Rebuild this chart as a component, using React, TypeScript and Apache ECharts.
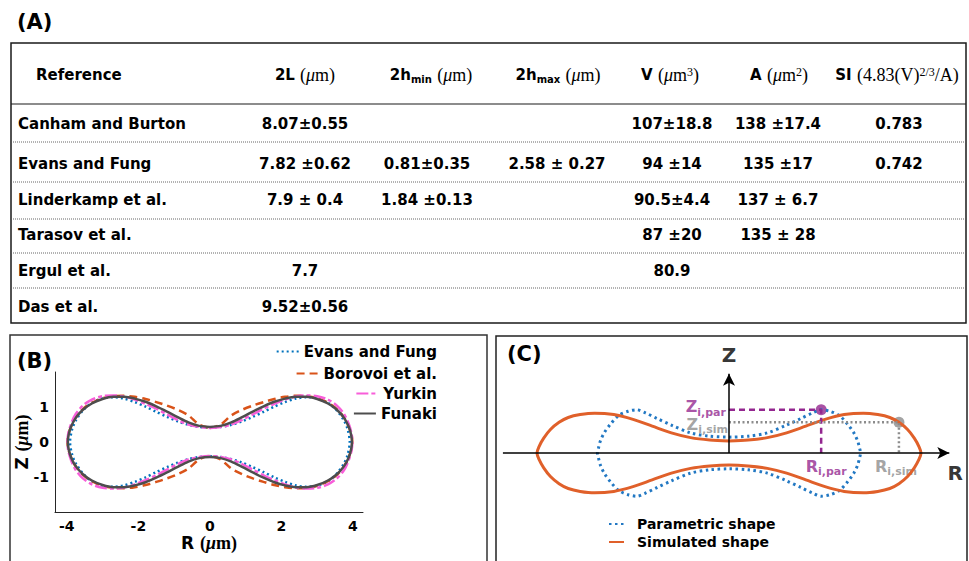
import React, { useEffect, useRef } from "react";
import * as echarts from "echarts";

const SANS = "DejaVu Sans";
const SERIF = "Liberation Serif";

// ---------- (A) literature table ----------
const references = [
  "Canham and Burton",
  "Evans and Fung",
  "Linderkamp et al.",
  "Tarasov et al.",
  "Ergul et al.",
  "Das et al.",
];
const diameterVals = ["8.07±0.55", "7.82 ±0.62", "7.9 ± 0.4", "", "7.7", "9.52±0.56"];
const minThicknessVals = ["", "0.81±0.35", "1.84 ±0.13", "", "", ""];
const maxThicknessVals = ["", "2.58 ± 0.27", "", "", "", ""];
const volumeVals = ["107±18.8", "94 ±14", "90.5±4.4", "87 ±20", "80.9", ""];
const areaVals = ["138 ±17.4", "135 ±17", "137 ± 6.7", "135 ± 28", "", ""];
const sphericityVals = ["0.783", "0.742", "", "", "", ""];
const columnHeaders = [
  "{b|2L} {s|(}{i|μ}{s|m)}",
  "{b|2h}{sub|min} {s|(}{i|μ}{s|m)}",
  "{b|2h}{sub|max} {s|(}{i|μ}{s|m)}",
  "{b|V} {s|(}{i|μ}{s|m}{sup|3}{s|)}",
  "{b|A} {s|(}{i|μ}{s|m}{sup|2}{s|)}",
  "{b|SI} {s|(4.83(V)}{sup|2/3}{s|/A)}",
];

// ---------- (B) cell profiles, one quadrant each: [R, Z] in μm ----------
const evansFung = [
  [0, 0.41], [0.3, 0.43], [0.6, 0.49], [0.9, 0.59], [1.2, 0.72], [1.5, 0.86],
  [1.8, 1.01], [2.1, 1.14], [2.4, 1.24], [2.7, 1.28], [3.0, 1.25], [3.3, 1.12],
  [3.55, 0.9], [3.75, 0.61], [3.85, 0.37], [3.91, 0],
];
const borovoi = [
  [0, 0.4], [0.3, 0.5], [0.6, 0.76], [0.9, 0.92], [1.2, 1.04], [1.5, 1.14],
  [1.8, 1.23], [2.1, 1.29], [2.4, 1.32], [2.7, 1.31], [3.0, 1.25], [3.3, 1.12],
  [3.55, 0.94], [3.75, 0.7], [3.88, 0.44], [3.96, 0.2], [3.98, 0],
];
const yurkin = [
  [0, 0.4], [0.3, 0.43], [0.6, 0.5], [0.9, 0.63], [1.2, 0.79], [1.5, 0.95],
  [1.8, 1.09], [2.1, 1.21], [2.4, 1.3], [2.7, 1.33], [3.0, 1.31], [3.3, 1.21],
  [3.55, 1.04], [3.75, 0.8], [3.88, 0.52], [3.96, 0.24], [3.98, 0],
];
const funaki = [
  [0, 0.43], [0.3, 0.46], [0.6, 0.56], [0.9, 0.71], [1.2, 0.87], [1.5, 1.02],
  [1.8, 1.15], [2.1, 1.24], [2.4, 1.29], [2.7, 1.29], [3.0, 1.23], [3.3, 1.1],
  [3.55, 0.92], [3.75, 0.69], [3.88, 0.44], [3.95, 0.2], [3.97, 0],
];
const rTicks = [-4, -2, 0, 2, 4];
const zTicks = [-1, 0, 1];

// ---------- (C) parametric vs simulated shape ----------
const parametricShape = [
  [0, 0.33], [0.4, 0.35], [0.8, 0.42], [1.2, 0.58], [1.5, 0.72], [1.75, 0.84],
  [1.92, 0.9], [2.1, 0.87], [2.3, 0.78], [2.47, 0.6], [2.6, 0.42], [2.68, 0.25],
  [2.72, 0.1], [2.74, 0],
];
const simulatedShape = [
  [0, 0.25], [0.4, 0.27], [0.8, 0.32], [1.2, 0.42], [1.6, 0.56], [2.0, 0.7],
  [2.4, 0.8], [2.8, 0.83], [3.1, 0.8], [3.35, 0.74], [3.54, 0.64], [3.72, 0.49],
  [3.86, 0.31], [3.96, 0.13], [4.0, 0],
];
const parPoint = [1.92, 0.9];
const simPoint = [3.54, 0.64];
const rAxisEnd = 4.71;
const zAxisEnd = 1.77;

// mirror one quadrant into a closed outline
const outline = (q: number[][]) => {
  const topRight = q.map(([r, z]) => [r, z]);
  const bottomRight = q.slice(0, -1).reverse().map(([r, z]) => [r, -z]);
  const bottomLeft = q.slice(1).map(([r, z]) => [-r, -z]);
  const topLeft = q.slice(0, -1).reverse().map(([r, z]) => [-r, z]);
  return [...topRight, ...bottomRight, ...bottomLeft, ...topLeft];
};

const BLUE_B = "#0072BD";
const ORANGE_B = "#D95319";
const PINK_B = "#F85ED9";
const GRAY_B = "#4D4D4D";
const BLUE_C = "#2278C3";
const ORANGE_C = "#E0602A";
const PURPLE = "#93278F";
const GRAY_C = "#8C8C8C";

const headerRich = {
  b: { fontFamily: SANS, fontWeight: "bold", fontSize: 15, fill: "#000" },
  s: { fontFamily: SERIF, fontSize: 18, fill: "#000" },
  i: { fontFamily: SERIF, fontStyle: "italic", fontSize: 18, fill: "#000" },
  sub: { fontFamily: SANS, fontWeight: "bold", fontSize: 10, fill: "#000", verticalAlign: "bottom" },
  sup: { fontFamily: SERIF, fontSize: 12, fill: "#000", verticalAlign: "top" },
};

function buildTable() {
  const left = 11, right = 966, top = 43, bottom = 323;
  const headerY = 75;
  const headerRule = 104;
  const rowRules = [142, 182, 219, 253, 288];
  const rowYs = [124, 164, 200, 235, 271, 307];
  const headerXs = [305, 431, 558, 670, 779, 897];
  const colXs = [305, 427, 557, 672, 778, 899];
  const cols = [diameterVals, minThicknessVals, maxThicknessVals, volumeVals, areaVals, sphericityVals];
  const txt = { fontFamily: SANS, fontWeight: "bold", fontSize: 15, fill: "#000" };
  const els: any[] = [
    { type: "rect", shape: { x: left, y: top, width: right - left, height: bottom - top }, style: { fill: "none", stroke: "#1a1a1a", lineWidth: 1.5 } },
    { type: "line", shape: { x1: left, y1: headerRule, x2: right, y2: headerRule }, style: { stroke: "#1a1a1a", lineWidth: 1.2 } },
    ...rowRules.map((y) => ({
      type: "line",
      shape: { x1: left, y1: y, x2: right, y2: y },
      style: { stroke: "#555", lineWidth: 0.9, lineDash: [1, 1] },
    })),
    { type: "text", x: 36, y: headerY, style: { ...txt, text: "Reference", align: "left", verticalAlign: "middle" } },
    ...columnHeaders.map((h, i) => ({
      type: "text",
      x: headerXs[i],
      y: headerY,
      style: { ...txt, text: h, rich: headerRich, align: "center", verticalAlign: "middle" },
    })),
    ...references.map((r, i) => ({
      type: "text",
      x: 18,
      y: rowYs[i],
      style: { ...txt, text: r, align: "left", verticalAlign: "middle" },
    })),
  ];
  cols.forEach((col, c) => {
    col.forEach((v, r) => {
      if (!v) return;
      els.push({ type: "text", x: colXs[c], y: rowYs[r], style: { ...txt, text: v, align: "center", verticalAlign: "middle" } });
    });
  });
  return els;
}

const panelLabel = (t: string, x: number, y: number) => ({
  type: "text",
  x,
  y,
  style: { text: t, fontFamily: SANS, fontWeight: "bold", fontSize: 21, fill: "#000", align: "left", verticalAlign: "middle" },
});

const legendText = { fontFamily: SANS, fontWeight: "bold", fontSize: 15, color: "#000" };
const bLegend = (name: string, top: number) => ({
  data: [name],
  right: 532,
  top,
  padding: 0,
  itemWidth: 22,
  itemHeight: 10,
  selectedMode: false,
  itemStyle: { opacity: 0 },
  textStyle: legendText,
});

const unitRich = {
  r: { fontFamily: SANS, fontWeight: "bold", fontSize: 17, color: "#000" },
  s: { fontFamily: SERIF, fontSize: 18, color: "#000" },
  i: { fontFamily: SERIF, fontStyle: "italic", fontSize: 18, color: "#000" },
};

const symLabel = (color: string) => ({
  m: { fontFamily: SANS, fontWeight: "bold", fontSize: 16, color },
  s: { fontFamily: SANS, fontWeight: "bold", fontSize: 11, color, verticalAlign: "bottom", padding: [0, 0, -3, 0] },
});

export default function App() {
  const ref = useRef<HTMLDivElement>(null);
  useEffect(() => {
    if (!ref.current) return;
    const chart = echarts.init(ref.current, undefined, { renderer: "svg" });
    const bAxisLine = { show: true, onZero: false, lineStyle: { color: "#262626", width: 1 } };
    const tickFont = { fontFamily: SANS, fontWeight: "bold", fontSize: 14, color: "#000" };
    chart.setOption({
      animation: false,
      backgroundColor: "#fff",
      grid: [
        { left: 55, top: 372, width: 308, height: 140, outerBoundsMode: "none" },
        { left: 498.6, top: 357, width: 460.8, height: 153.6, outerBoundsMode: "none" },
      ],
      xAxis: [
        {
          gridIndex: 0, type: "value", min: -4.33, max: 4.28,
          axisLine: bAxisLine, axisTick: { show: false }, splitLine: { show: false },
          axisLabel: { ...tickFont, margin: 7, customValues: rTicks },
          name: "{r|R} {s|(}{i|μ}{s|m)}", nameLocation: "middle", nameGap: 22, nameMoveOverlap: false,
          nameTextStyle: { ...tickFont, fontSize: 17, rich: unitRich },
        },
        { gridIndex: 1, type: "value", min: -4.8, max: 4.8, show: false },
      ],
      yAxis: [
        {
          gridIndex: 0, type: "value", min: -2, max: 2,
          axisLine: bAxisLine, axisTick: { show: false }, splitLine: { show: false },
          axisLabel: { ...tickFont, margin: 6, customValues: zTicks },
          name: "{r|Z} {s|(}{i|μ}{s|m)}", nameLocation: "middle", nameRotate: 90, nameGap: 24, nameMoveOverlap: false,
          nameTextStyle: { ...tickFont, fontSize: 17, rich: unitRich },
        },
        { gridIndex: 1, type: "value", min: -1.2, max: 2.0, show: false },
      ],
      legend: [
        bLegend("Evans and Fung", 344),
        bLegend("Borovoi et al.", 366),
        bLegend("Yurkin", 386),
        bLegend("Funaki", 406),
        {
          data: ["Parametric shape", "Simulated shape"],
          orient: "vertical", left: 608, top: 517, padding: 0,
          itemWidth: 15, itemHeight: 10, itemGap: 4, selectedMode: false,
          itemStyle: { opacity: 0 },
          textStyle: { ...legendText, fontSize: 14, padding: [0, 0, 0, 8] },
        },
      ],
      series: [
        {
          name: "Evans and Fung", type: "line", xAxisIndex: 0, yAxisIndex: 0, data: outline(evansFung),
          symbol: "none", smooth: 0.3, lineStyle: { color: BLUE_B, width: 2.5, type: [2, 3] }, itemStyle: { color: BLUE_B },
        },
        {
          name: "Borovoi et al.", type: "line", xAxisIndex: 0, yAxisIndex: 0, data: outline(borovoi),
          symbol: "none", smooth: 0.3, lineStyle: { color: ORANGE_B, width: 2.5, type: [8, 5] }, itemStyle: { color: ORANGE_B },
        },
        {
          name: "Yurkin", type: "line", xAxisIndex: 0, yAxisIndex: 0, data: outline(yurkin),
          symbol: "none", smooth: 0.3, lineStyle: { color: PINK_B, width: 2.5, type: [12, 3, 4, 3] }, itemStyle: { color: PINK_B },
        },
        {
          name: "Funaki", type: "line", xAxisIndex: 0, yAxisIndex: 0, data: outline(funaki),
          symbol: "none", smooth: 0.3, lineStyle: { color: GRAY_B, width: 2.5 }, itemStyle: { color: GRAY_B },
        },
        {
          name: "Parametric shape", type: "line", xAxisIndex: 1, yAxisIndex: 1, data: outline(parametricShape),
          symbol: "none", smooth: 0.3, lineStyle: { color: BLUE_C, width: 3, type: [2.5, 3.5] }, itemStyle: { color: BLUE_C },
        },
        {
          name: "Simulated shape", type: "line", xAxisIndex: 1, yAxisIndex: 1, data: outline(simulatedShape),
          symbol: "none", smooth: 0.3, lineStyle: { color: ORANGE_C, width: 3 }, itemStyle: { color: ORANGE_C },
        },
        {
          name: "axes", type: "line", xAxisIndex: 1, yAxisIndex: 1, data: [], symbol: "none",
          markLine: {
            silent: true, symbol: ["none", "arrow"], symbolSize: [9, 12],
            label: { show: false }, lineStyle: { color: "#000", width: 1.5, type: "solid" },
            emphasis: { disabled: true },
            data: [
              [{ coord: [-rAxisEnd, 0] }, { coord: [rAxisEnd - 0.12, 0] }],
              [{ coord: [0, 0] }, { coord: [0, zAxisEnd - 0.12] }],
            ],
          },
        },
        {
          name: "par guide", type: "line", xAxisIndex: 1, yAxisIndex: 1, symbol: "none",
          data: [[0, parPoint[1]], parPoint, [parPoint[0], 0]],
          lineStyle: { color: PURPLE, width: 2.5, type: [6, 4] },
        },
        {
          name: "sim guide", type: "line", xAxisIndex: 1, yAxisIndex: 1, symbol: "none",
          data: [[0, simPoint[1]], simPoint, [simPoint[0], 0]],
          lineStyle: { color: GRAY_C, width: 2.5, type: [2, 2.5] },
        },
        {
          name: "sample points", type: "scatter", xAxisIndex: 1, yAxisIndex: 1, symbolSize: 11,
          data: [
            { value: parPoint, itemStyle: { color: PURPLE } },
            { value: simPoint, itemStyle: { color: GRAY_C } },
          ],
        },
        {
          name: "annotations", type: "scatter", xAxisIndex: 1, yAxisIndex: 1, symbol: "circle", symbolSize: 0.1,
          itemStyle: { color: "transparent" }, silent: true,
          data: [
            { value: [0, parPoint[1]], label: { show: true, position: "left", distance: 3, offset: [0, -3], formatter: "{m|Z}{s|i,par}", rich: symLabel(PURPLE) } },
            { value: [0, simPoint[1]], label: { show: true, position: "left", distance: 1, offset: [0, 2], formatter: "{m|Z}{s|i,sim}", rich: symLabel(GRAY_C) } },
            { value: [parPoint[0], 0], label: { show: true, position: "bottom", distance: 5, offset: [5, 0], formatter: "{m|R}{s|i,par}", rich: symLabel(PURPLE) } },
            { value: [simPoint[0], 0], label: { show: true, position: "bottom", distance: 5, offset: [-3, 0], formatter: "{m|R}{s|i,sim}", rich: symLabel(GRAY_C) } },
            { value: [rAxisEnd, 0], label: { show: true, position: "bottom", distance: 10, formatter: "R", fontFamily: SANS, fontWeight: "bold", fontSize: 20, color: "#000" } },
            { value: [0, zAxisEnd], label: { show: true, position: "top", distance: 3, formatter: "Z", fontFamily: SANS, fontWeight: "bold", fontSize: 20, color: "#000" } },
          ],
        },
      ],
      graphic: [
        panelLabel("(A)", 17, 22),
        ...buildTable(),
        { type: "rect", shape: { x: 10, y: 335, width: 477, height: 240 }, style: { fill: "none", stroke: "#333", lineWidth: 1.5 } },
        { type: "rect", shape: { x: 496, y: 336, width: 471, height: 240 }, style: { fill: "none", stroke: "#222", lineWidth: 1.5 } },
        panelLabel("(B)", 17, 361),
        panelLabel("(C)", 507, 354),
      ],
    });
    return () => chart.dispose();
  }, []);
  return <div ref={ref} style={{ position: "absolute", left: 0, top: 0, width: 969, height: 561 }} />;
}
